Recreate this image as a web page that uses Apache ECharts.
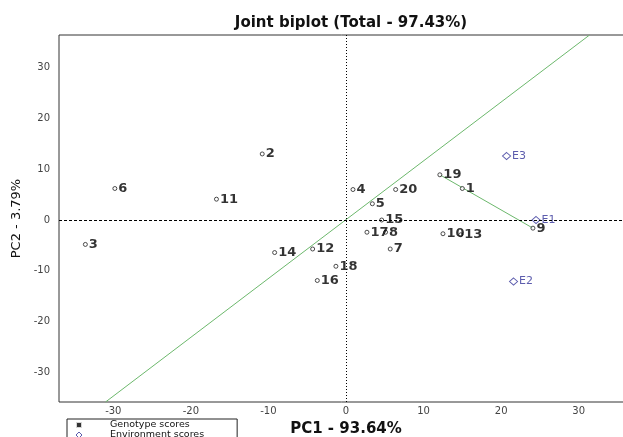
<!DOCTYPE html>
<html>
<head>
<meta charset="utf-8">
<script src="https://cdn.jsdelivr.net/npm/echarts@6/dist/echarts.min.js"></script>
<style>
html,body{margin:0;padding:0;background:#fff;}
#chart{width:623px;height:437px;}
</style>
</head>
<body>
<div id="chart"></div>
<script>
// Genotype scores
var genoNames = ['1','2','3','4','5','6','7','8','9','10','11','12','13','14','15','16','17','18','19','20'];
var genoPC1 = [15.0, -10.8, -33.6, 0.9, 3.4, -29.8, 5.7, 5.1, 24.1, 12.5, -16.7, -4.3, 14.8, -9.2, 4.6, -3.7, 2.7, -1.3, 12.1, 6.4];
var genoPC2 = [6.2, 13.0, -4.8, 6.0, 3.2, 6.2, -5.7, -2.4, -1.6, -2.7, 4.1, -5.7, -2.9, -6.4, 0.0, -11.9, -2.4, -9.1, 8.9, 6.0];
// Environment scores
var envNames = ['E1','E2','E3'];
var envPC1 = [24.5, 21.6, 20.7];
var envPC2 = [0.0, -12.1, 12.6];
// Average-environment axis end points (PC1, PC2)
var aecPC1 = [-31.0, 31.4];
var aecPC2 = [-35.8, 36.4];
// Projection segment joins genotype 19 and genotype 9
var projFrom = '19';
var projTo = '9';
// Axis ticks
var xTicks = [-30, -20, -10, 0, 10, 20, 30];
var yTicks = [-30, -20, -10, 0, 10, 20, 30];

var FONT = 'DejaVu Sans';
var NAVY = '#333399';
var GREEN = '#6cb86c';

var genoData = genoNames.map(function (n, i) { return { name: n, value: [genoPC1[i], genoPC2[i]] }; });
var envData = envNames.map(function (n, i) { return { name: n, value: [envPC1[i], envPC2[i]] }; });
var aecData = aecPC1.map(function (x, i) { return [x, aecPC2[i]]; });
var iA = genoNames.indexOf(projFrom), iB = genoNames.indexOf(projTo);
var projData = [[genoPC1[iA], genoPC2[iA]], [genoPC1[iB], genoPC2[iB]]];

var chart = echarts.init(document.getElementById('chart'), null, { renderer: 'canvas' });
chart.setOption({
  animation: false,
  backgroundColor: '#fff',
  textStyle: { fontFamily: FONT },
  title: {
    text: 'Joint biplot (Total - 97.43%)',
    left: 346, top: 11, textAlign: 'center',
    textStyle: { fontFamily: FONT, fontSize: 15, fontWeight: 'bold', color: '#111' }
  },
  legend: {
    orient: 'vertical',
    left: 67, top: 419, height: 60,
    padding: [1, 33, 2, 8],
    itemGap: 0,
    itemWidth: 6, itemHeight: 6,
    borderColor: '#222', borderWidth: 1,
    backgroundColor: '#fff',
    textStyle: { fontFamily: FONT, fontSize: 9.5, color: '#111', lineHeight: 9, padding: [0, 0, 0, 23] },
    data: [
      { name: 'Genotype scores', icon: 'rect', itemStyle: { color: '#000', borderColor: '#fff', borderWidth: 2 } },
      { name: 'Environment scores', icon: 'diamond', itemStyle: { color: '#fff', borderColor: NAVY, borderWidth: 1 } }
    ]
  },
  grid: {
    left: 59, right: -10, top: 35, bottom: 35,
    containLabel: false, outerBoundsMode: 'none',
    show: true, borderColor: '#333', borderWidth: 1, backgroundColor: 'transparent'
  },
  xAxis: {
    type: 'value', min: -37, max: 37,
    name: 'PC1 - 93.64%', nameLocation: 'middle', nameGap: 20,
    nameTextStyle: { fontFamily: FONT, fontSize: 15, fontWeight: 'bold', color: '#111' },
    axisLine: { show: false }, axisTick: { show: false }, splitLine: { show: false },
    axisLabel: { customValues: xTicks, fontFamily: FONT, fontSize: 10, color: '#444', margin: 4 }
  },
  yAxis: {
    type: 'value', min: -35.8, max: 36.4,
    name: 'PC2 - 3.79%', nameLocation: 'middle', nameGap: 25,
    nameTextStyle: { fontFamily: FONT, fontSize: 13, color: '#111' },
    axisLine: { show: false }, axisTick: { show: false }, splitLine: { show: false },
    axisLabel: { customValues: yTicks, fontFamily: FONT, fontSize: 10, color: '#444', margin: 9 }
  },
  series: [
    {
      name: 'AEC', type: 'line', data: aecData, symbol: 'none', silent: true,
      lineStyle: { color: GREEN, width: 1 }, z: 1
    },
    {
      name: 'Projection', type: 'line', data: projData, symbol: 'none', silent: true,
      lineStyle: { color: GREEN, width: 1 }, z: 1
    },
    {
      name: 'Genotype scores', type: 'scatter', data: genoData,
      symbol: 'circle', symbolSize: 4,
      itemStyle: { color: '#fff', borderColor: '#222', borderWidth: 1 },
      label: { show: true, position: 'right', distance: 1, formatter: '{b}',
        fontFamily: FONT, fontSize: 13, fontWeight: 'bold', color: '#000' },
      markLine: {
        silent: true, symbol: 'none', label: { show: false },
        data: [
          { yAxis: 0, lineStyle: { color: '#000', width: 1, type: [3, 2] } },
          { xAxis: 0, lineStyle: { color: '#000', width: 1, type: [1, 2] } }
        ]
      },
      z: 3
    },
    {
      name: 'Environment scores', type: 'scatter', data: envData,
      symbol: 'diamond', symbolSize: [8, 7],
      itemStyle: { color: '#fff', borderColor: NAVY, borderWidth: 1 },
      label: { show: true, position: 'right', distance: 1, formatter: '{b}',
        fontFamily: FONT, fontSize: 11, color: NAVY },
      z: 4
    }
  ]
});
</script>
</body>
</html>
